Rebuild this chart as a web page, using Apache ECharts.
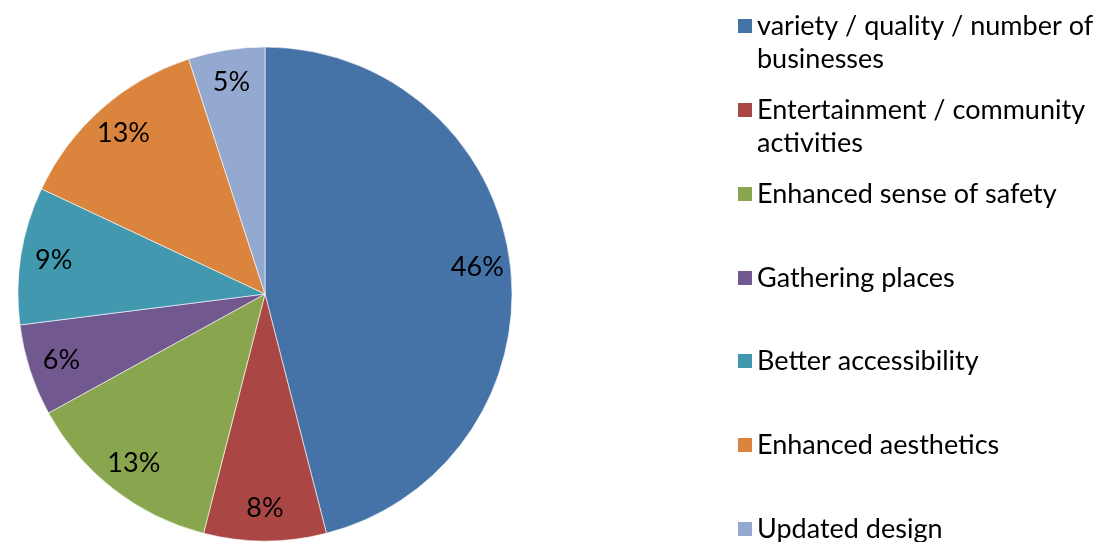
<!DOCTYPE html>
<html>
<head>
<meta charset="utf-8">
<script src="https://cdn.jsdelivr.net/npm/echarts@6/dist/echarts.min.js"></script>
<style>
  html, body { margin: 0; padding: 0; background: #fff; }
  #chart { width: 1100px; height: 542px; }
</style>
</head>
<body>
<div id="chart"></div>
<script>
// data
const categories = [
  'variety / quality / number of businesses',
  'Entertainment / community activities',
  'Enhanced sense of safety',
  'Gathering places',
  'Better accessibility',
  'Enhanced aesthetics',
  'Updated design'
];
const legendLines = [
  'variety / quality / number of\nbusinesses',
  'Entertainment / community\nactivities',
  'Enhanced sense of safety',
  'Gathering places',
  'Better accessibility',
  'Enhanced aesthetics',
  'Updated design'
];
const shares = [46, 8, 13, 6, 9, 13, 5];
const colors = ['#4572A7', '#AA4643', '#89A54E', '#71588F', '#4198AF', '#DB843D', '#93A9CF'];

const FONT = 'Lato, "DejaVu Sans", sans-serif';
const FS = 27;
const LH = 33;

const chart = echarts.init(document.getElementById('chart'), null, { renderer: 'canvas' });

const pieData = categories.map((name, i) => ({
  name: name,
  value: shares[i],
  itemStyle: { color: colors[i] }
}));

// one legend per entry so rows sit at fixed spacing
// two-line entries get an empty first line so the icon lines up with line one
const iconCenters = [26, 110, 194, 278, 361, 445, 529];
const legends = categories.map((name, i) => {
  const twoLines = legendLines[i].indexOf('\n') >= 0;
  return {
    data: [name],
    left: 738,
    top: twoLines ? iconCenters[i] - 49.5 : iconCenters[i] - 16.5,
    orient: 'vertical',
    padding: 0,
    icon: 'rect',
    itemWidth: 14,
    itemHeight: 14,
    itemGap: 0,
    selectedMode: false,
    itemStyle: { borderWidth: 0 },
    formatter: () => (twoLines ? ' \n' : '') + legendLines[i],
    textStyle: {
      fontFamily: FONT,
      fontSize: FS,
      lineHeight: LH,
      color: '#000'
    }
  };
});

chart.setOption({
  animation: false,
  backgroundColor: '#fff',
  legend: legends,
  series: [
    {
      type: 'pie',
      center: [265, 294],
      radius: [0, 247],
      startAngle: 90,
      clockwise: true,
      data: pieData,
      label: { show: false },
      labelLine: { show: false },
      itemStyle: { borderColor: '#fff', borderWidth: 0.6 },
      emphasis: { disabled: true }
    },
    {
      // transparent ring used only to place the percentage labels
      type: 'pie',
      center: [265, 294],
      radius: [175, 247],
      startAngle: 90,
      clockwise: true,
      silent: true,
      data: pieData.map(d => ({ name: d.name, value: d.value })),
      itemStyle: { color: 'rgba(0,0,0,0)' },
      label: {
        show: true,
        position: 'inside',
        formatter: '{c}%',
        fontFamily: FONT,
        fontSize: FS,
        color: '#000'
      },
      labelLine: { show: false },
      emphasis: { disabled: true }
    }
  ]
});
</script>
</body>
</html>
